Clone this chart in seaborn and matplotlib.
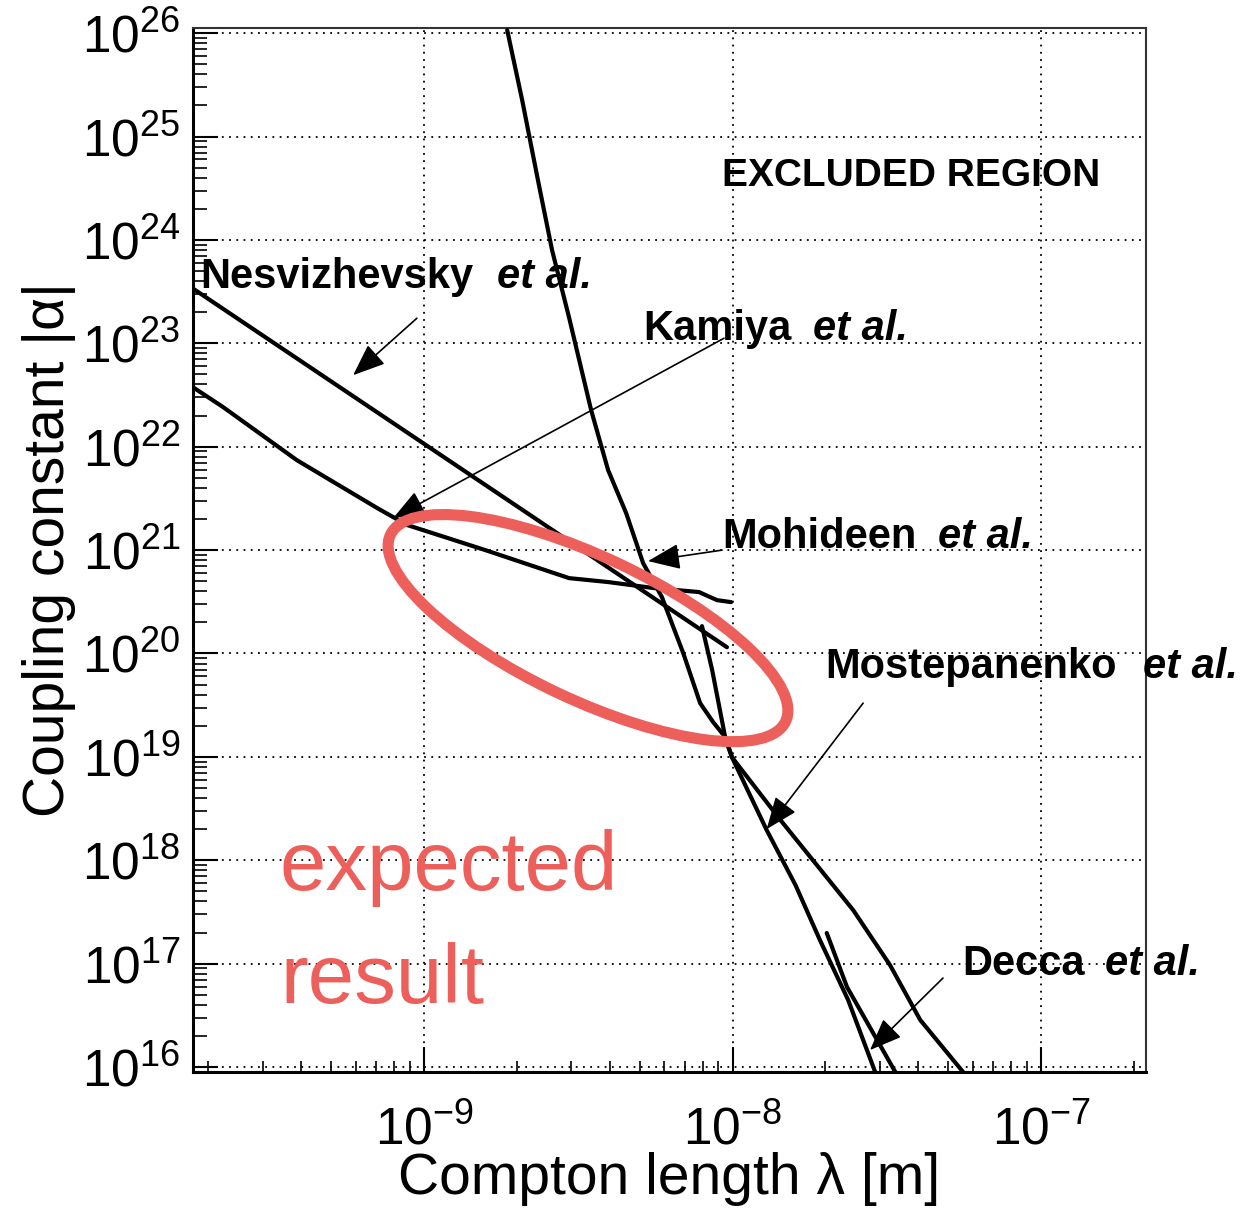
import numpy as np
import matplotlib
matplotlib.use('Agg')
import matplotlib.pyplot as plt
import matplotlib.ticker as mticker
from matplotlib.patches import Ellipse
from matplotlib.transforms import ScaledTranslation
import seaborn as sns

# ── DATA (lambda in m, |alpha|) ────────────────────────────────
nesv_lam   = [1.78e-10, 9.59e-9]
nesv_alpha = [3.39e23, 1.15e20]

kamiya_lam   = [1.78e-10, 2.23e-10, 3.87e-10, 7.05e-10, 8.81e-10, 1.58e-9,
                2.95e-9, 3.95e-9, 5.57e-9, 7.78e-9, 8.91e-9, 9.89e-9]
kamiya_alpha = [3.77e22, 2.42e22, 7.41e21, 2.55e21, 1.75e21, 1.00e21,
                5.36e20, 4.91e20, 4.29e20, 3.93e20, 3.28e20, 3.14e20]

mohideen_lam   = [1.86e-9, 2.08e-9, 2.34e-9, 2.60e-9, 2.95e-9, 3.48e-9,
                  3.95e-9, 4.52e-9, 5.13e-9, 5.90e-9, 6.92e-9, 7.85e-9,
                  8.65e-9, 9.46e-9, 9.95e-9, 1.29e-8, 1.60e-8, 1.92e-8,
                  2.37e-8, 2.90e-8]
mohideen_alpha = [1.07e26, 2.25e25, 3.78e24, 7.96e23, 1.79e23, 2.26e22,
                  5.94e21, 2.28e21, 7.48e20, 3.52e20, 1.01e20, 3.31e19,
                  2.17e19, 1.56e19, 9.95e18, 1.96e18, 5.75e17, 1.69e17,
                  4.45e16, 8.95e15]

mostep_lam   = [7.96e-9, 8.59e-9, 9.46e-9, 9.95e-9, 1.43e-8, 2.46e-8,
                3.24e-8, 4.06e-8, 5.59e-8]
mostep_alpha = [1.84e20, 6.90e19, 1.56e19, 9.95e18, 2.45e18, 3.30e17,
                9.68e16, 2.85e16, 8.95e15]

decca_lam   = [2.02e-8, 2.35e-8, 3.37e-8]
decca_alpha = [1.98e17, 5.94e16, 8.95e15]

# decade ticks shown on each axis
x_ticks = [1e-9, 1e-8, 1e-7]
y_ticks = [1e16, 1e17, 1e18, 1e19, 1e20, 1e21, 1e22, 1e23, 1e24, 1e25, 1e26]

# labels: name, name pos, "et al." pos, arrow tail, arrow tip
ann_names = ['Nesvizhevsky', 'Kamiya', 'Mohideen', 'Mostepanenko', 'Decca']
ann_name_xy = [(1.88e-10, 3.42e23), (5.13e-9, 1.07e23), (9.25e-9, 1.05e21),
               (2.00e-8, 5.78e19), (5.55e-8, 7.76e16)]
ann_etal_xy = [(1.73e-9, 3.42e23), (1.82e-8, 1.07e23), (4.64e-8, 1.05e21),
               (2.14e-7, 5.78e19), (1.61e-7, 7.76e16)]
ann_tail = [(9.48e-10, 1.75e23), (9.38e-9, 1.12e23), (9.25e-9, 1.00e21),
            (2.65e-8, 3.31e19), (4.81e-8, 7.26e16)]
ann_tip  = [(5.89e-10, 4.92e22), (7.94e-10, 2.04e21), (5.32e-9, 7.83e20),
            (1.29e-8, 2.00e18), (2.79e-8, 1.46e16)]

# highlighted ellipse (centre in data units, size in inches)
ell_center = (3.40e-9, 1.76e20)
ell_size   = (4.37, 1.43)
ell_angle  = -25.3

RED = '#ec5f5a'

# ── STYLE ──────────────────────────────────────────────────────
sns.set_theme(style='white')
plt.rcParams['font.family'] = ['Liberation Sans', 'DejaVu Sans']
plt.rcParams['mathtext.fontset'] = 'custom'
plt.rcParams['mathtext.rm'] = 'Liberation Sans'
plt.rcParams['text.color'] = 'black'
plt.rcParams['axes.labelcolor'] = 'black'
plt.rcParams['xtick.color'] = 'black'
plt.rcParams['ytick.color'] = 'black'

fig = plt.figure(figsize=(12.41, 12.12), dpi=100)
ax = fig.add_axes([0.1555, 0.1155, 0.7679, 0.8614])

ax.set_xscale('log')
ax.set_yscale('log')
ax.set_xlim(1.782e-10, 2.188e-7)
ax.set_ylim(8.954e15, 1.122e26)

# ── CURVES ─────────────────────────────────────────────────────
for lam, alpha in [(nesv_lam, nesv_alpha), (kamiya_lam, kamiya_alpha),
                   (mohideen_lam, mohideen_alpha), (mostep_lam, mostep_alpha),
                   (decca_lam, decca_alpha)]:
    sns.lineplot(x=lam, y=alpha, sort=False, estimator=None, color='black',
                 lw=3, ax=ax, zorder=3)

# ── LABELS + ARROWS ────────────────────────────────────────────
for name, nxy, exy, tail, tip in zip(ann_names, ann_name_xy, ann_etal_xy,
                                     ann_tail, ann_tip):
    ax.text(*nxy, name, fontsize=30, fontweight='bold', ha='left',
            va='baseline', zorder=5, clip_on=False)
    ax.text(*exy, 'et al.', fontsize=30, fontweight='bold', fontstyle='italic',
            ha='left', va='baseline', zorder=5, clip_on=False)
    ax.annotate('', xy=tip, xytext=tail, zorder=4,
                arrowprops=dict(arrowstyle='-|>,head_length=0.4,head_width=0.16',
                                mutation_scale=50, color='black', lw=1.2,
                                shrinkA=0, shrinkB=0))

ax.text(9.25e-9, 3.31e24, 'EXCLUDED REGION', fontsize=28, fontweight='bold',
        ha='left', va='baseline')

ax.text(3.41e-10, 5.15e17, 'expected', fontsize=60, color=RED,
        ha='left', va='baseline')
ax.text(3.41e-10, 4.16e16, 'result', fontsize=60, color=RED,
        ha='left', va='baseline')

ell = Ellipse((0, 0), ell_size[0], ell_size[1], angle=ell_angle, fill=False,
              ec=RED, lw=8, zorder=6,
              transform=fig.dpi_scale_trans + ScaledTranslation(*ell_center, ax.transData))
ax.add_patch(ell)

# ── AXES ───────────────────────────────────────────────────────
ax.xaxis.set_major_locator(mticker.FixedLocator(x_ticks))
ax.yaxis.set_major_locator(mticker.FixedLocator(y_ticks))
ax.xaxis.set_major_formatter(mticker.LogFormatterSciNotation())
ax.yaxis.set_major_formatter(mticker.LogFormatterSciNotation())
ax.xaxis.set_minor_locator(mticker.LogLocator(base=10, subs=np.arange(2, 10), numticks=100))
ax.yaxis.set_minor_locator(mticker.LogLocator(base=10, subs=np.arange(2, 10), numticks=100))
ax.xaxis.set_minor_formatter(mticker.NullFormatter())
ax.yaxis.set_minor_formatter(mticker.NullFormatter())

ax.grid(True, which='major', color='black', lw=1.3, ls=(0, (1, 3)))
ax.tick_params(which='both', direction='in', bottom=True, left=True,
               top=False, right=False, colors='black', labelsize=37)
ax.tick_params(axis='x', which='major', length=18, width=1.5, pad=24)
ax.tick_params(axis='x', which='minor', length=8, width=1.2)
ax.tick_params(axis='y', which='major', length=18, width=1.5, pad=9)
ax.tick_params(axis='y', which='minor', length=10, width=1.2)

for side in ['left', 'bottom']:
    ax.spines[side].set_linewidth(2.2)
    ax.spines[side].set_color('black')
for side in ['top', 'right']:
    ax.spines[side].set_linewidth(1.5)
    ax.spines[side].set_color('#333333')

ax.set_xlabel('Compton length λ [m]', fontsize=41, labelpad=-3)
ax.set_ylabel('Coupling constant |α|', fontsize=41, labelpad=4)

fig.savefig('out.png', dpi=100)
plt.close(fig)
